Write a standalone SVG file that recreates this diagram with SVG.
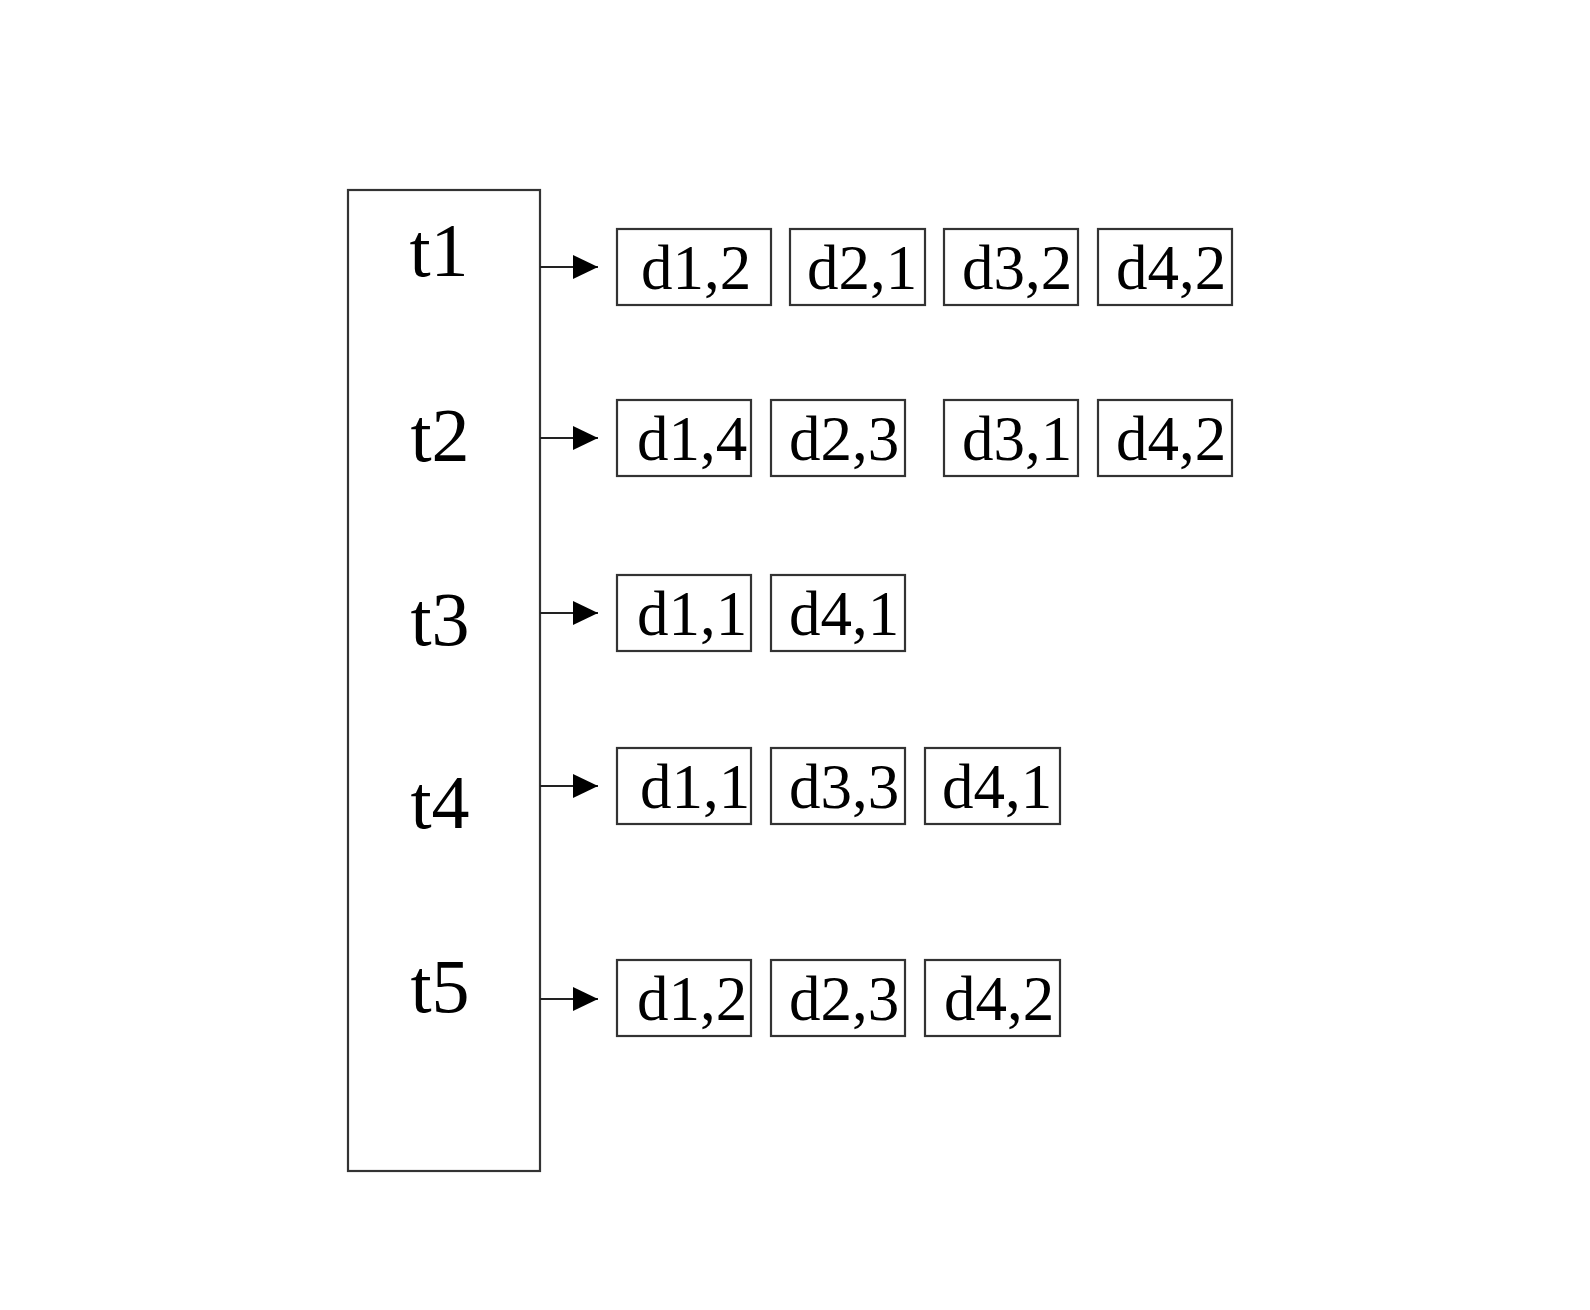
<svg xmlns="http://www.w3.org/2000/svg" width="1590" height="1310" viewBox="0 0 1590 1310">
<defs>
<style>
.box{fill:#fff;stroke:#333;stroke-width:2.2}
.lbl{font-family:"Liberation Serif","Times New Roman",serif;fill:#000;text-anchor:middle}
.t{font-size:76px}
.d{font-size:63px}
.conn{stroke:#222;stroke-width:2.2;fill:none}
</style>
<marker id="ah" viewBox="0 0 25 24" refX="25" refY="12" markerWidth="25" markerHeight="24" markerUnits="userSpaceOnUse" orient="auto">
<path d="M0,0 L25,12 L0,24 Z" fill="#000"/>
</marker>
</defs>
<rect width="1590" height="1310" fill="#fff"/>
<g id="table">
<rect class="box" x="348" y="190" width="192" height="981"/>
<text class="lbl t" x="439" y="276">t1</text>
<text class="lbl t" x="440" y="461">t2</text>
<text class="lbl t" x="440" y="645">t3</text>
<text class="lbl t" x="440" y="828">t4</text>
<text class="lbl t" x="440" y="1012">t5</text>
</g>
<g id="connectors">
<line class="conn" x1="540" y1="267" x2="598" y2="267" marker-end="url(#ah)"/>
<line class="conn" x1="540" y1="438" x2="598" y2="438" marker-end="url(#ah)"/>
<line class="conn" x1="540" y1="613" x2="598" y2="613" marker-end="url(#ah)"/>
<line class="conn" x1="540" y1="786" x2="598" y2="786" marker-end="url(#ah)"/>
<line class="conn" x1="540" y1="999" x2="598" y2="999" marker-end="url(#ah)"/>
</g>
<g id="row1">
<g id="r1-d12"><rect class="box" x="617" y="229" width="154" height="76"/><text class="lbl d" x="696" y="289">d1,2</text></g>
<g id="r1-d21"><rect class="box" x="790" y="229" width="135" height="76"/><text class="lbl d" x="862" y="289">d2,1</text></g>
<g id="r1-d32"><rect class="box" x="944" y="229" width="134" height="76"/><text class="lbl d" x="1017" y="289">d3,2</text></g>
<g id="r1-d42"><rect class="box" x="1098" y="229" width="134" height="76"/><text class="lbl d" x="1171" y="289">d4,2</text></g>
</g>
<g id="row2">
<g id="r2-d14"><rect class="box" x="617" y="400" width="134" height="76"/><text class="lbl d" x="692" y="460">d1,4</text></g>
<g id="r2-d23"><rect class="box" x="771" y="400" width="134" height="76"/><text class="lbl d" x="844" y="460">d2,3</text></g>
<g id="r2-d31"><rect class="box" x="944" y="400" width="134" height="76"/><text class="lbl d" x="1017" y="460">d3,1</text></g>
<g id="r2-d42"><rect class="box" x="1098" y="400" width="134" height="76"/><text class="lbl d" x="1171" y="460">d4,2</text></g>
</g>
<g id="row3">
<g id="r3-d11"><rect class="box" x="617" y="575" width="134" height="76"/><text class="lbl d" x="692" y="635">d1,1</text></g>
<g id="r3-d41"><rect class="box" x="771" y="575" width="134" height="76"/><text class="lbl d" x="844" y="635">d4,1</text></g>
</g>
<g id="row4">
<g id="r4-d11"><rect class="box" x="617" y="748" width="134" height="76"/><text class="lbl d" x="695" y="808">d1,1</text></g>
<g id="r4-d33"><rect class="box" x="771" y="748" width="134" height="76"/><text class="lbl d" x="844" y="808">d3,3</text></g>
<g id="r4-d41"><rect class="box" x="925" y="748" width="135" height="76"/><text class="lbl d" x="997" y="808">d4,1</text></g>
</g>
<g id="row5">
<g id="r5-d12"><rect class="box" x="617" y="960" width="134" height="76"/><text class="lbl d" x="692" y="1020">d1,2</text></g>
<g id="r5-d23"><rect class="box" x="771" y="960" width="134" height="76"/><text class="lbl d" x="844" y="1020">d2,3</text></g>
<g id="r5-d42"><rect class="box" x="925" y="960" width="135" height="76"/><text class="lbl d" x="999" y="1020">d4,2</text></g>
</g>
</svg>
